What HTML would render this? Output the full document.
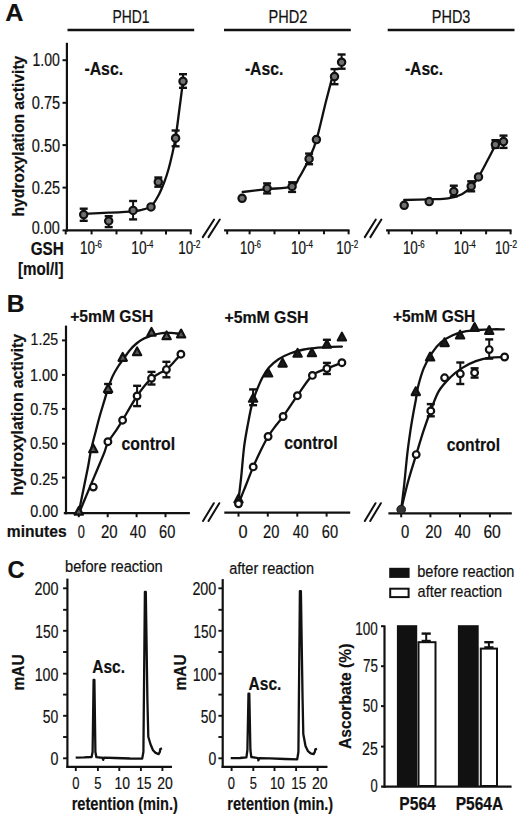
<!DOCTYPE html>
<html><head><meta charset="utf-8"><style>
html,body{margin:0;padding:0;background:#fff;}
svg{display:block;font-family:"Liberation Sans", sans-serif;}
text{stroke:#111;stroke-width:0.2px;stroke-linejoin:round;}
text[font-weight="bold"]{stroke-width:0.2px;}
</style></head><body>
<svg width="520" height="821" viewBox="0 0 520 821">
<rect width="520" height="821" fill="#fff"/>
<text x="5.37" y="21.45" font-size="24.43" font-weight="bold" textLength="18.19" lengthAdjust="spacingAndGlyphs" fill="#111">A</text>
<line x1="67.50" y1="30.00" x2="194.20" y2="30.00" stroke="#111" stroke-width="2.30"/>
<text x="112.56" y="22.75" font-size="18.22" textLength="37.02" lengthAdjust="spacingAndGlyphs" fill="#111">PHD1</text>
<line x1="224.00" y1="30.00" x2="350.80" y2="30.00" stroke="#111" stroke-width="2.30"/>
<text x="268.51" y="22.75" font-size="18.22" textLength="38.83" lengthAdjust="spacingAndGlyphs" fill="#111">PHD2</text>
<line x1="387.70" y1="30.00" x2="514.50" y2="30.00" stroke="#111" stroke-width="2.30"/>
<text x="431.81" y="22.75" font-size="18.22" textLength="38.62" lengthAdjust="spacingAndGlyphs" fill="#111">PHD3</text>
<line x1="66.90" y1="42.80" x2="66.90" y2="231.50" stroke="#111" stroke-width="2.20"/>
<line x1="65.80" y1="230.40" x2="191.90" y2="230.40" stroke="#111" stroke-width="2.20"/>
<line x1="62.50" y1="60.20" x2="66.90" y2="60.20" stroke="#111" stroke-width="2.00"/>
<text x="32.43" y="66.20" font-size="17.91" textLength="27.42" lengthAdjust="spacingAndGlyphs" fill="#111">1.00</text>
<line x1="62.50" y1="102.80" x2="66.90" y2="102.80" stroke="#111" stroke-width="2.00"/>
<text x="31.83" y="109.45" font-size="17.91" textLength="28.38" lengthAdjust="spacingAndGlyphs" fill="#111">0.75</text>
<line x1="62.50" y1="145.10" x2="66.90" y2="145.10" stroke="#111" stroke-width="2.00"/>
<text x="31.83" y="151.65" font-size="17.91" textLength="28.34" lengthAdjust="spacingAndGlyphs" fill="#111">0.50</text>
<line x1="62.50" y1="187.60" x2="66.90" y2="187.60" stroke="#111" stroke-width="2.00"/>
<text x="31.83" y="194.25" font-size="17.91" textLength="28.38" lengthAdjust="spacingAndGlyphs" fill="#111">0.25</text>
<line x1="62.50" y1="230.40" x2="66.90" y2="230.40" stroke="#111" stroke-width="2.00"/>
<text x="31.74" y="233.55" font-size="17.91" textLength="28.13" lengthAdjust="spacingAndGlyphs" fill="#111">0.00</text>
<line x1="65.70" y1="230.40" x2="65.70" y2="234.40" stroke="#111" stroke-width="2.00"/>
<line x1="91.60" y1="230.40" x2="91.60" y2="234.40" stroke="#111" stroke-width="2.00"/>
<line x1="116.50" y1="230.40" x2="116.50" y2="234.40" stroke="#111" stroke-width="2.00"/>
<line x1="141.40" y1="230.40" x2="141.40" y2="234.40" stroke="#111" stroke-width="2.00"/>
<line x1="166.00" y1="230.40" x2="166.00" y2="234.40" stroke="#111" stroke-width="2.00"/>
<line x1="190.70" y1="230.40" x2="190.70" y2="234.40" stroke="#111" stroke-width="2.00"/>
<text x="80.07" y="253.80" font-size="18.22" textLength="15.06" lengthAdjust="spacingAndGlyphs" fill="#111">10</text>
<text x="94.95" y="248.00" font-size="10.76" textLength="7.00" lengthAdjust="spacingAndGlyphs" fill="#111">-6</text>
<text x="131.35" y="253.80" font-size="18.22" textLength="15.28" lengthAdjust="spacingAndGlyphs" fill="#111">10</text>
<text x="146.45" y="248.00" font-size="10.76" textLength="6.98" lengthAdjust="spacingAndGlyphs" fill="#111">-4</text>
<text x="178.28" y="253.80" font-size="18.22" textLength="14.95" lengthAdjust="spacingAndGlyphs" fill="#111">10</text>
<text x="193.03" y="248.00" font-size="10.76" textLength="7.50" lengthAdjust="spacingAndGlyphs" fill="#111">-2</text>
<text x="84.38" y="74.85" font-size="18.22" font-weight="bold" textLength="38.81" lengthAdjust="spacingAndGlyphs" fill="#111">-Asc.</text>
<text transform="rotate(-90)" x="-216.59" y="23.60" font-size="17.20" font-weight="bold" textLength="160.88" lengthAdjust="spacingAndGlyphs" fill="#111">hydroxylation activity</text>
<text x="30.67" y="254.70" font-size="17.80" font-weight="bold" textLength="33.16" lengthAdjust="spacingAndGlyphs" fill="#111">GSH</text>
<text x="18.05" y="274.70" font-size="17.49" font-weight="bold" textLength="45.40" lengthAdjust="spacingAndGlyphs" fill="#111">[mol/l]</text>
<path d="M83.70,213.80 C87.87,213.62 100.47,213.12 108.70,212.70 C116.93,212.28 127.65,211.75 133.10,211.30 C138.55,210.85 138.42,210.80 141.40,210.00 C144.38,209.20 148.12,209.00 151.00,206.50 C153.88,204.00 156.45,199.17 158.70,195.00 C160.95,190.83 162.90,185.67 164.50,181.50 C166.10,177.33 167.08,174.25 168.30,170.00 C169.52,165.75 170.58,161.42 171.80,156.00 C173.02,150.58 174.35,145.17 175.60,137.50 C176.85,129.83 178.07,119.37 179.30,110.00 C180.53,100.63 182.38,86.08 183.00,81.30" fill="none" stroke="#111" stroke-width="2.30" stroke-linecap="round" stroke-linejoin="round"/>
<line x1="83.70" y1="208.50" x2="83.70" y2="221.00" stroke="#111" stroke-width="2.00"/>
<line x1="79.70" y1="208.70" x2="87.70" y2="208.70" stroke="#111" stroke-width="2.40"/>
<line x1="79.70" y1="220.80" x2="87.70" y2="220.80" stroke="#111" stroke-width="2.40"/>
<circle cx="83.70" cy="214.60" r="3.65" fill="#707070" stroke="#111" stroke-width="2.2"/>
<line x1="108.70" y1="216.00" x2="108.70" y2="227.30" stroke="#111" stroke-width="2.00"/>
<line x1="104.70" y1="216.20" x2="112.70" y2="216.20" stroke="#111" stroke-width="2.40"/>
<line x1="104.70" y1="227.10" x2="112.70" y2="227.10" stroke="#111" stroke-width="2.40"/>
<circle cx="108.70" cy="221.00" r="3.65" fill="#707070" stroke="#111" stroke-width="2.2"/>
<line x1="133.10" y1="200.80" x2="133.10" y2="219.60" stroke="#111" stroke-width="2.00"/>
<line x1="129.10" y1="201.00" x2="137.10" y2="201.00" stroke="#111" stroke-width="2.40"/>
<line x1="129.10" y1="219.40" x2="137.10" y2="219.40" stroke="#111" stroke-width="2.40"/>
<circle cx="133.10" cy="210.40" r="3.65" fill="#707070" stroke="#111" stroke-width="2.2"/>
<circle cx="151.00" cy="206.90" r="3.65" fill="#707070" stroke="#111" stroke-width="2.2"/>
<line x1="158.30" y1="177.30" x2="158.30" y2="186.90" stroke="#111" stroke-width="2.00"/>
<line x1="154.30" y1="177.50" x2="162.30" y2="177.50" stroke="#111" stroke-width="2.40"/>
<line x1="154.30" y1="186.70" x2="162.30" y2="186.70" stroke="#111" stroke-width="2.40"/>
<circle cx="158.30" cy="181.90" r="3.65" fill="#707070" stroke="#111" stroke-width="2.2"/>
<line x1="175.60" y1="130.30" x2="175.60" y2="146.50" stroke="#111" stroke-width="2.00"/>
<line x1="171.60" y1="130.50" x2="179.60" y2="130.50" stroke="#111" stroke-width="2.40"/>
<line x1="171.60" y1="146.30" x2="179.60" y2="146.30" stroke="#111" stroke-width="2.40"/>
<circle cx="175.60" cy="138.20" r="3.65" fill="#707070" stroke="#111" stroke-width="2.2"/>
<line x1="183.00" y1="74.00" x2="183.00" y2="88.00" stroke="#111" stroke-width="2.00"/>
<line x1="179.00" y1="74.20" x2="187.00" y2="74.20" stroke="#111" stroke-width="2.40"/>
<line x1="179.00" y1="87.80" x2="187.00" y2="87.80" stroke="#111" stroke-width="2.40"/>
<circle cx="183.00" cy="81.30" r="3.65" fill="#707070" stroke="#111" stroke-width="2.2"/>
<path d="M202.80,237.10 L214.10,219.50 M208.50,237.10 L219.80,219.50" stroke="#111" stroke-width="2.0" stroke-linecap="round" fill="none"/>
<path d="M364.80,237.10 L375.80,219.50 M370.40,237.10 L381.40,219.50" stroke="#111" stroke-width="2.0" stroke-linecap="round" fill="none"/>
<line x1="224.10" y1="230.30" x2="349.50" y2="230.30" stroke="#111" stroke-width="2.20"/>
<line x1="227.20" y1="230.30" x2="227.20" y2="234.30" stroke="#111" stroke-width="2.00"/>
<line x1="249.60" y1="230.30" x2="249.60" y2="234.30" stroke="#111" stroke-width="2.00"/>
<line x1="274.50" y1="230.30" x2="274.50" y2="234.30" stroke="#111" stroke-width="2.00"/>
<line x1="299.00" y1="230.30" x2="299.00" y2="234.30" stroke="#111" stroke-width="2.00"/>
<line x1="324.00" y1="230.30" x2="324.00" y2="234.30" stroke="#111" stroke-width="2.00"/>
<line x1="348.60" y1="230.30" x2="348.60" y2="234.30" stroke="#111" stroke-width="2.00"/>
<text x="239.90" y="253.80" font-size="18.22" textLength="14.61" lengthAdjust="spacingAndGlyphs" fill="#111">10</text>
<text x="254.37" y="248.00" font-size="10.76" textLength="6.66" lengthAdjust="spacingAndGlyphs" fill="#111">-6</text>
<text x="290.97" y="253.80" font-size="18.22" textLength="15.06" lengthAdjust="spacingAndGlyphs" fill="#111">10</text>
<text x="305.85" y="248.00" font-size="10.76" textLength="7.09" lengthAdjust="spacingAndGlyphs" fill="#111">-4</text>
<text x="336.28" y="253.80" font-size="18.22" textLength="14.95" lengthAdjust="spacingAndGlyphs" fill="#111">10</text>
<text x="351.04" y="248.00" font-size="10.76" textLength="7.16" lengthAdjust="spacingAndGlyphs" fill="#111">-2</text>
<text x="244.89" y="74.85" font-size="18.22" font-weight="bold" textLength="38.50" lengthAdjust="spacingAndGlyphs" fill="#111">-Asc.</text>
<path d="M242.70,192.00 C246.77,191.53 258.87,190.12 267.10,189.20 C275.33,188.28 286.77,188.42 292.10,186.50 C297.43,184.58 297.03,180.78 299.10,177.70 C301.17,174.62 302.83,171.13 304.50,168.00 C306.17,164.87 307.12,163.55 309.10,158.90 C311.08,154.25 313.63,149.50 316.40,140.10 C319.17,130.70 323.05,113.00 325.70,102.50 C328.35,92.00 331.20,81.33 332.30,77.10" fill="none" stroke="#111" stroke-width="2.30" stroke-linecap="round" stroke-linejoin="round"/>
<circle cx="242.10" cy="198.30" r="3.65" fill="#707070" stroke="#111" stroke-width="2.2"/>
<line x1="267.10" y1="183.20" x2="267.10" y2="193.60" stroke="#111" stroke-width="2.00"/>
<line x1="263.10" y1="183.40" x2="271.10" y2="183.40" stroke="#111" stroke-width="2.40"/>
<line x1="263.10" y1="193.40" x2="271.10" y2="193.40" stroke="#111" stroke-width="2.40"/>
<circle cx="267.10" cy="188.30" r="3.65" fill="#707070" stroke="#111" stroke-width="2.2"/>
<line x1="292.10" y1="182.10" x2="292.10" y2="192.10" stroke="#111" stroke-width="2.00"/>
<line x1="288.10" y1="182.30" x2="296.10" y2="182.30" stroke="#111" stroke-width="2.40"/>
<line x1="288.10" y1="191.90" x2="296.10" y2="191.90" stroke="#111" stroke-width="2.40"/>
<circle cx="292.10" cy="186.50" r="3.65" fill="#707070" stroke="#111" stroke-width="2.2"/>
<line x1="309.10" y1="153.40" x2="309.10" y2="164.40" stroke="#111" stroke-width="2.00"/>
<line x1="305.10" y1="153.60" x2="313.10" y2="153.60" stroke="#111" stroke-width="2.40"/>
<line x1="305.10" y1="164.20" x2="313.10" y2="164.20" stroke="#111" stroke-width="2.40"/>
<circle cx="309.10" cy="158.90" r="3.65" fill="#707070" stroke="#111" stroke-width="2.2"/>
<circle cx="316.40" cy="139.60" r="3.65" fill="#707070" stroke="#111" stroke-width="2.2"/>
<line x1="334.50" y1="68.90" x2="334.50" y2="84.40" stroke="#111" stroke-width="2.00"/>
<line x1="330.50" y1="69.10" x2="338.50" y2="69.10" stroke="#111" stroke-width="2.40"/>
<line x1="330.50" y1="84.20" x2="338.50" y2="84.20" stroke="#111" stroke-width="2.40"/>
<circle cx="334.50" cy="76.60" r="3.65" fill="#707070" stroke="#111" stroke-width="2.2"/>
<line x1="341.60" y1="54.30" x2="341.60" y2="68.90" stroke="#111" stroke-width="2.00"/>
<line x1="337.60" y1="54.50" x2="345.60" y2="54.50" stroke="#111" stroke-width="2.40"/>
<line x1="337.60" y1="68.70" x2="345.60" y2="68.70" stroke="#111" stroke-width="2.40"/>
<circle cx="341.60" cy="62.20" r="3.65" fill="#707070" stroke="#111" stroke-width="2.2"/>
<line x1="386.10" y1="230.30" x2="511.50" y2="230.30" stroke="#111" stroke-width="2.20"/>
<line x1="388.70" y1="230.30" x2="388.70" y2="234.30" stroke="#111" stroke-width="2.00"/>
<line x1="411.90" y1="230.30" x2="411.90" y2="234.30" stroke="#111" stroke-width="2.00"/>
<line x1="436.80" y1="230.30" x2="436.80" y2="234.30" stroke="#111" stroke-width="2.00"/>
<line x1="461.00" y1="230.30" x2="461.00" y2="234.30" stroke="#111" stroke-width="2.00"/>
<line x1="486.10" y1="230.30" x2="486.10" y2="234.30" stroke="#111" stroke-width="2.00"/>
<line x1="510.60" y1="230.30" x2="510.60" y2="234.30" stroke="#111" stroke-width="2.00"/>
<text x="402.88" y="253.80" font-size="18.22" textLength="14.95" lengthAdjust="spacingAndGlyphs" fill="#111">10</text>
<text x="417.65" y="248.00" font-size="10.76" textLength="7.00" lengthAdjust="spacingAndGlyphs" fill="#111">-6</text>
<text x="453.77" y="253.80" font-size="18.22" textLength="15.06" lengthAdjust="spacingAndGlyphs" fill="#111">10</text>
<text x="468.65" y="248.00" font-size="10.76" textLength="7.09" lengthAdjust="spacingAndGlyphs" fill="#111">-4</text>
<text x="494.90" y="253.80" font-size="18.22" textLength="14.61" lengthAdjust="spacingAndGlyphs" fill="#111">10</text>
<text x="509.31" y="248.00" font-size="10.76" textLength="7.83" lengthAdjust="spacingAndGlyphs" fill="#111">-2</text>
<text x="404.89" y="74.85" font-size="18.22" font-weight="bold" textLength="38.29" lengthAdjust="spacingAndGlyphs" fill="#111">-Asc.</text>
<path d="M404.20,200.00 C408.37,199.88 421.88,199.57 429.20,199.30 C436.52,199.03 442.65,199.25 448.10,198.40 C453.55,197.55 458.05,196.12 461.90,194.20 C465.75,192.28 468.43,189.78 471.20,186.90 C473.97,184.02 475.82,181.25 478.50,176.90 C481.18,172.55 484.38,166.28 487.30,160.80 C490.22,155.32 494.55,146.80 496.00,144.00" fill="none" stroke="#111" stroke-width="2.30" stroke-linecap="round" stroke-linejoin="round"/>
<circle cx="404.20" cy="205.30" r="3.65" fill="#707070" stroke="#111" stroke-width="2.2"/>
<circle cx="429.20" cy="201.60" r="3.65" fill="#707070" stroke="#111" stroke-width="2.2"/>
<line x1="453.80" y1="185.50" x2="453.80" y2="196.50" stroke="#111" stroke-width="2.00"/>
<line x1="449.80" y1="185.70" x2="457.80" y2="185.70" stroke="#111" stroke-width="2.40"/>
<line x1="449.80" y1="196.30" x2="457.80" y2="196.30" stroke="#111" stroke-width="2.40"/>
<circle cx="453.80" cy="191.50" r="3.65" fill="#707070" stroke="#111" stroke-width="2.2"/>
<line x1="471.20" y1="181.10" x2="471.20" y2="191.50" stroke="#111" stroke-width="2.00"/>
<line x1="467.20" y1="181.30" x2="475.20" y2="181.30" stroke="#111" stroke-width="2.40"/>
<line x1="467.20" y1="191.30" x2="475.20" y2="191.30" stroke="#111" stroke-width="2.40"/>
<circle cx="471.20" cy="186.20" r="3.65" fill="#707070" stroke="#111" stroke-width="2.2"/>
<circle cx="478.50" cy="176.90" r="3.65" fill="#707070" stroke="#111" stroke-width="2.2"/>
<line x1="495.40" y1="140.00" x2="495.40" y2="148.00" stroke="#111" stroke-width="2.00"/>
<line x1="491.40" y1="140.20" x2="499.40" y2="140.20" stroke="#111" stroke-width="2.40"/>
<line x1="491.40" y1="147.80" x2="499.40" y2="147.80" stroke="#111" stroke-width="2.40"/>
<circle cx="495.40" cy="144.60" r="3.65" fill="#707070" stroke="#111" stroke-width="2.2"/>
<line x1="503.50" y1="135.40" x2="503.50" y2="148.10" stroke="#111" stroke-width="2.00"/>
<line x1="499.50" y1="135.60" x2="507.50" y2="135.60" stroke="#111" stroke-width="2.40"/>
<line x1="499.50" y1="147.90" x2="507.50" y2="147.90" stroke="#111" stroke-width="2.40"/>
<circle cx="503.50" cy="141.60" r="3.65" fill="#707070" stroke="#111" stroke-width="2.2"/>
<text x="6.65" y="312.45" font-size="24.63" font-weight="bold" textLength="17.76" lengthAdjust="spacingAndGlyphs" fill="#111">B</text>
<text x="70.14" y="322.20" font-size="17.39" font-weight="bold" textLength="83.11" lengthAdjust="spacingAndGlyphs" fill="#111">+5mM GSH</text>
<text x="224.44" y="322.70" font-size="17.39" font-weight="bold" textLength="83.93" lengthAdjust="spacingAndGlyphs" fill="#111">+5mM GSH</text>
<text x="392.95" y="322.40" font-size="17.39" font-weight="bold" textLength="82.30" lengthAdjust="spacingAndGlyphs" fill="#111">+5mM GSH</text>
<line x1="66.00" y1="325.60" x2="66.00" y2="514.30" stroke="#111" stroke-width="2.20"/>
<line x1="63.80" y1="513.20" x2="189.90" y2="513.20" stroke="#111" stroke-width="2.20"/>
<line x1="62.00" y1="340.40" x2="66.00" y2="340.40" stroke="#111" stroke-width="2.00"/>
<text x="30.62" y="345.30" font-size="17.39" textLength="27.57" lengthAdjust="spacingAndGlyphs" fill="#111">1.25</text>
<line x1="62.00" y1="374.90" x2="66.00" y2="374.90" stroke="#111" stroke-width="2.00"/>
<text x="30.00" y="380.90" font-size="17.39" textLength="28.17" lengthAdjust="spacingAndGlyphs" fill="#111">1.00</text>
<line x1="62.00" y1="408.90" x2="66.00" y2="408.90" stroke="#111" stroke-width="2.00"/>
<text x="30.14" y="415.20" font-size="17.39" textLength="28.07" lengthAdjust="spacingAndGlyphs" fill="#111">0.75</text>
<line x1="62.00" y1="443.70" x2="66.00" y2="443.70" stroke="#111" stroke-width="2.00"/>
<text x="30.04" y="449.35" font-size="17.39" textLength="28.13" lengthAdjust="spacingAndGlyphs" fill="#111">0.50</text>
<line x1="62.00" y1="477.60" x2="66.00" y2="477.60" stroke="#111" stroke-width="2.00"/>
<text x="30.14" y="484.85" font-size="17.39" textLength="28.07" lengthAdjust="spacingAndGlyphs" fill="#111">0.25</text>
<text x="30.14" y="516.60" font-size="17.39" textLength="28.02" lengthAdjust="spacingAndGlyphs" fill="#111">0.00</text>
<text transform="rotate(-90)" x="-495.50" y="22.60" font-size="17.20" font-weight="bold" textLength="161.48" lengthAdjust="spacingAndGlyphs" fill="#111">hydroxylation activity</text>
<text x="6.77" y="536.55" font-size="16.04" font-weight="bold" textLength="59.87" lengthAdjust="spacingAndGlyphs" fill="#111">minutes</text>
<line x1="78.80" y1="513.20" x2="78.80" y2="517.20" stroke="#111" stroke-width="2.00"/>
<line x1="107.70" y1="513.20" x2="107.70" y2="517.20" stroke="#111" stroke-width="2.00"/>
<line x1="136.60" y1="513.20" x2="136.60" y2="517.20" stroke="#111" stroke-width="2.00"/>
<line x1="165.50" y1="513.20" x2="165.50" y2="517.20" stroke="#111" stroke-width="2.00"/>
<text x="77.80" y="537.70" font-size="17.59" textLength="7.10" lengthAdjust="spacingAndGlyphs" fill="#111">0</text>
<text x="100.95" y="537.70" font-size="17.59" textLength="16.64" lengthAdjust="spacingAndGlyphs" fill="#111">20</text>
<text x="129.87" y="537.70" font-size="17.59" textLength="16.20" lengthAdjust="spacingAndGlyphs" fill="#111">40</text>
<text x="159.06" y="537.70" font-size="17.59" textLength="16.21" lengthAdjust="spacingAndGlyphs" fill="#111">60</text>
<text x="121.58" y="450.25" font-size="18.01" font-weight="bold" textLength="53.54" lengthAdjust="spacingAndGlyphs" fill="#111">control</text>
<path d="M78.70,512.70 C79.55,508.55 82.22,495.60 83.80,487.80 C85.38,480.00 86.98,472.23 88.20,465.90 C89.42,459.57 89.88,455.42 91.10,449.80 C92.32,444.18 94.03,437.92 95.50,432.20 C96.97,426.48 98.45,420.67 99.90,415.50 C101.35,410.33 102.90,405.52 104.20,401.20 C105.50,396.88 106.35,393.65 107.70,389.60 C109.05,385.55 110.57,380.75 112.30,376.90 C114.03,373.05 116.18,369.57 118.10,366.50 C120.02,363.43 121.88,361.18 123.80,358.50 C125.72,355.82 127.48,352.90 129.60,350.40 C131.72,347.90 134.18,345.43 136.50,343.50 C138.82,341.57 141.18,340.05 143.50,338.80 C145.82,337.55 148.15,336.80 150.40,336.00 C152.65,335.20 154.73,334.52 157.00,334.00 C159.27,333.48 161.67,333.08 164.00,332.90 C166.33,332.72 168.83,332.80 171.00,332.90 C173.17,333.00 175.12,333.23 177.00,333.50 C178.88,333.77 181.42,334.33 182.30,334.50" fill="none" stroke="#111" stroke-width="2.30" stroke-linecap="round" stroke-linejoin="round"/>
<path d="M79.00,513.50 C79.92,511.25 82.73,504.28 84.50,500.00 C86.27,495.72 87.52,492.77 89.60,487.80 C91.68,482.83 94.55,476.05 97.00,470.20 C99.45,464.35 102.48,457.33 104.30,452.70 C106.12,448.07 105.95,446.07 107.90,442.40 C109.85,438.73 113.55,434.40 116.00,430.70 C118.45,427.00 120.33,423.97 122.60,420.20 C124.87,416.43 127.18,412.13 129.60,408.10 C132.02,404.07 134.70,399.60 137.10,396.00 C139.50,392.40 141.60,389.45 144.00,386.50 C146.40,383.55 149.00,380.47 151.50,378.30 C154.00,376.13 156.52,374.95 159.00,373.50 C161.48,372.05 163.98,371.43 166.40,369.60 C168.82,367.77 171.08,365.07 173.50,362.50 C175.92,359.93 179.67,355.58 180.90,354.20" fill="none" stroke="#111" stroke-width="2.30" stroke-linecap="round" stroke-linejoin="round"/>
<path d="M78.80,506.90 L74.65,514.70 L82.95,514.70 Z" fill="#555" stroke="#111" stroke-width="2.2" stroke-linejoin="round"/>
<path d="M93.30,444.40 L89.15,452.20 L97.45,452.20 Z" fill="#555" stroke="#111" stroke-width="2.2" stroke-linejoin="round"/>
<line x1="108.10" y1="383.80" x2="108.10" y2="393.00" stroke="#111" stroke-width="2.00"/>
<line x1="104.10" y1="384.00" x2="112.10" y2="384.00" stroke="#111" stroke-width="2.40"/>
<line x1="104.10" y1="392.80" x2="112.10" y2="392.80" stroke="#111" stroke-width="2.40"/>
<path d="M108.10,384.30 L103.95,392.10 L112.25,392.10 Z" fill="#555" stroke="#111" stroke-width="2.2" stroke-linejoin="round"/>
<path d="M122.70,353.00 L118.55,360.80 L126.85,360.80 Z" fill="#555" stroke="#111" stroke-width="2.2" stroke-linejoin="round"/>
<path d="M137.10,347.40 L132.95,355.20 L141.25,355.20 Z" fill="#555" stroke="#111" stroke-width="2.2" stroke-linejoin="round"/>
<path d="M151.50,327.90 L147.35,335.70 L155.65,335.70 Z" fill="#555" stroke="#111" stroke-width="2.2" stroke-linejoin="round"/>
<path d="M166.60,331.40 L162.45,339.20 L170.75,339.20 Z" fill="#555" stroke="#111" stroke-width="2.2" stroke-linejoin="round"/>
<path d="M181.10,329.60 L176.95,337.40 L185.25,337.40 Z" fill="#555" stroke="#111" stroke-width="2.2" stroke-linejoin="round"/>
<circle cx="93.30" cy="487.10" r="3.35" fill="#fff" stroke="#111" stroke-width="2.2"/>
<circle cx="107.90" cy="441.70" r="3.35" fill="#fff" stroke="#111" stroke-width="2.2"/>
<circle cx="122.60" cy="420.20" r="3.35" fill="#fff" stroke="#111" stroke-width="2.2"/>
<line x1="137.10" y1="385.60" x2="137.10" y2="406.30" stroke="#111" stroke-width="2.00"/>
<line x1="133.10" y1="385.80" x2="141.10" y2="385.80" stroke="#111" stroke-width="2.40"/>
<line x1="133.10" y1="406.10" x2="141.10" y2="406.10" stroke="#111" stroke-width="2.40"/>
<circle cx="137.10" cy="396.00" r="3.35" fill="#fff" stroke="#111" stroke-width="2.2"/>
<line x1="151.50" y1="371.70" x2="151.50" y2="384.70" stroke="#111" stroke-width="2.00"/>
<line x1="147.50" y1="371.90" x2="155.50" y2="371.90" stroke="#111" stroke-width="2.40"/>
<line x1="147.50" y1="384.50" x2="155.50" y2="384.50" stroke="#111" stroke-width="2.40"/>
<circle cx="151.50" cy="378.30" r="3.35" fill="#fff" stroke="#111" stroke-width="2.2"/>
<line x1="166.40" y1="361.60" x2="166.40" y2="377.50" stroke="#111" stroke-width="2.00"/>
<line x1="162.40" y1="361.80" x2="170.40" y2="361.80" stroke="#111" stroke-width="2.40"/>
<line x1="162.40" y1="377.30" x2="170.40" y2="377.30" stroke="#111" stroke-width="2.40"/>
<circle cx="166.40" cy="369.60" r="3.35" fill="#fff" stroke="#111" stroke-width="2.2"/>
<circle cx="180.90" cy="354.20" r="3.35" fill="#fff" stroke="#111" stroke-width="2.2"/>
<line x1="224.30" y1="512.60" x2="350.20" y2="512.60" stroke="#111" stroke-width="2.20"/>
<line x1="238.50" y1="512.60" x2="238.50" y2="516.60" stroke="#111" stroke-width="2.00"/>
<line x1="267.80" y1="512.60" x2="267.80" y2="516.60" stroke="#111" stroke-width="2.00"/>
<line x1="297.30" y1="512.60" x2="297.30" y2="516.60" stroke="#111" stroke-width="2.00"/>
<line x1="326.60" y1="512.60" x2="326.60" y2="516.60" stroke="#111" stroke-width="2.00"/>
<text x="238.56" y="537.70" font-size="17.59" textLength="9.07" lengthAdjust="spacingAndGlyphs" fill="#111">0</text>
<text x="263.06" y="537.70" font-size="17.59" textLength="16.31" lengthAdjust="spacingAndGlyphs" fill="#111">20</text>
<text x="292.87" y="537.70" font-size="17.59" textLength="15.78" lengthAdjust="spacingAndGlyphs" fill="#111">40</text>
<text x="321.86" y="537.70" font-size="17.59" textLength="16.32" lengthAdjust="spacingAndGlyphs" fill="#111">60</text>
<text x="284.18" y="448.75" font-size="18.01" font-weight="bold" textLength="53.43" lengthAdjust="spacingAndGlyphs" fill="#111">control</text>
<path d="M203.00,521.00 L213.80,503.20 M208.50,521.00 L219.30,503.20" stroke="#111" stroke-width="2.0" stroke-linecap="round" fill="none"/>
<path d="M238.50,500.00 C238.95,496.15 240.25,485.87 241.20,476.90 C242.15,467.93 243.05,455.17 244.20,446.20 C245.35,437.23 246.82,430.03 248.10,423.10 C249.38,416.17 250.68,409.48 251.90,404.60 C253.12,399.72 253.67,398.28 255.40,393.80 C257.13,389.32 260.00,382.12 262.30,377.70 C264.60,373.28 266.50,370.38 269.20,367.30 C271.90,364.22 275.03,361.50 278.50,359.20 C281.97,356.90 285.78,355.12 290.00,353.50 C294.22,351.88 299.18,350.47 303.80,349.50 C308.42,348.53 313.08,348.15 317.70,347.70 C322.32,347.25 327.47,346.98 331.50,346.80 C335.53,346.62 340.17,346.63 341.90,346.60" fill="none" stroke="#111" stroke-width="2.30" stroke-linecap="round" stroke-linejoin="round"/>
<path d="M238.50,503.80 C239.72,500.75 243.35,491.65 245.80,485.50 C248.25,479.35 250.75,472.65 253.20,466.90 C255.65,461.15 258.02,456.07 260.50,451.00 C262.98,445.93 265.60,440.67 268.10,436.50 C270.60,432.33 273.00,429.33 275.50,426.00 C278.00,422.67 279.45,421.55 283.10,416.50 C286.75,411.45 292.52,402.55 297.40,395.70 C302.28,388.85 307.48,379.93 312.40,375.40 C317.32,370.87 321.98,370.62 326.90,368.50 C331.82,366.38 339.40,363.67 341.90,362.70" fill="none" stroke="#111" stroke-width="2.30" stroke-linecap="round" stroke-linejoin="round"/>
<path d="M238.50,494.60 L234.35,502.40 L242.65,502.40 Z" fill="#1c1c1c" stroke="#111" stroke-width="2.2" stroke-linejoin="round"/>
<line x1="253.10" y1="389.20" x2="253.10" y2="405.40" stroke="#111" stroke-width="2.00"/>
<line x1="249.10" y1="389.40" x2="257.10" y2="389.40" stroke="#111" stroke-width="2.40"/>
<line x1="249.10" y1="405.20" x2="257.10" y2="405.20" stroke="#111" stroke-width="2.40"/>
<path d="M253.10,393.90 L248.95,401.70 L257.25,401.70 Z" fill="#1c1c1c" stroke="#111" stroke-width="2.2" stroke-linejoin="round"/>
<path d="M268.10,368.70 L263.95,376.50 L272.25,376.50 Z" fill="#1c1c1c" stroke="#111" stroke-width="2.2" stroke-linejoin="round"/>
<path d="M282.60,358.80 L278.45,366.60 L286.75,366.60 Z" fill="#1c1c1c" stroke="#111" stroke-width="2.2" stroke-linejoin="round"/>
<path d="M297.60,348.90 L293.45,356.70 L301.75,356.70 Z" fill="#1c1c1c" stroke="#111" stroke-width="2.2" stroke-linejoin="round"/>
<path d="M311.90,348.40 L307.75,356.20 L316.05,356.20 Z" fill="#1c1c1c" stroke="#111" stroke-width="2.2" stroke-linejoin="round"/>
<line x1="326.90" y1="339.60" x2="326.90" y2="346.50" stroke="#111" stroke-width="2.00"/>
<line x1="322.90" y1="339.80" x2="330.90" y2="339.80" stroke="#111" stroke-width="2.40"/>
<line x1="322.90" y1="346.30" x2="330.90" y2="346.30" stroke="#111" stroke-width="2.40"/>
<path d="M326.90,339.90 L322.75,347.70 L331.05,347.70 Z" fill="#1c1c1c" stroke="#111" stroke-width="2.2" stroke-linejoin="round"/>
<path d="M341.90,332.70 L337.75,340.50 L346.05,340.50 Z" fill="#1c1c1c" stroke="#111" stroke-width="2.2" stroke-linejoin="round"/>
<circle cx="238.50" cy="503.80" r="3.35" fill="#fff" stroke="#111" stroke-width="2.2"/>
<circle cx="253.20" cy="466.90" r="3.35" fill="#fff" stroke="#111" stroke-width="2.2"/>
<circle cx="268.10" cy="436.50" r="3.35" fill="#fff" stroke="#111" stroke-width="2.2"/>
<circle cx="283.10" cy="416.50" r="3.35" fill="#fff" stroke="#111" stroke-width="2.2"/>
<circle cx="297.40" cy="395.70" r="3.35" fill="#fff" stroke="#111" stroke-width="2.2"/>
<circle cx="312.40" cy="375.40" r="3.35" fill="#fff" stroke="#111" stroke-width="2.2"/>
<line x1="326.90" y1="362.70" x2="326.90" y2="374.20" stroke="#111" stroke-width="2.00"/>
<line x1="322.90" y1="362.90" x2="330.90" y2="362.90" stroke="#111" stroke-width="2.40"/>
<line x1="322.90" y1="374.00" x2="330.90" y2="374.00" stroke="#111" stroke-width="2.40"/>
<circle cx="326.90" cy="368.50" r="3.35" fill="#fff" stroke="#111" stroke-width="2.2"/>
<circle cx="341.90" cy="362.70" r="3.35" fill="#fff" stroke="#111" stroke-width="2.2"/>
<line x1="388.40" y1="513.30" x2="511.80" y2="513.30" stroke="#111" stroke-width="2.20"/>
<line x1="401.20" y1="513.30" x2="401.20" y2="517.30" stroke="#111" stroke-width="2.00"/>
<line x1="430.40" y1="513.30" x2="430.40" y2="517.30" stroke="#111" stroke-width="2.00"/>
<line x1="460.00" y1="513.30" x2="460.00" y2="517.30" stroke="#111" stroke-width="2.00"/>
<line x1="489.90" y1="513.30" x2="489.90" y2="517.30" stroke="#111" stroke-width="2.00"/>
<text x="400.92" y="537.70" font-size="17.59" textLength="8.26" lengthAdjust="spacingAndGlyphs" fill="#111">0</text>
<text x="425.25" y="537.70" font-size="17.59" textLength="16.64" lengthAdjust="spacingAndGlyphs" fill="#111">20</text>
<text x="454.47" y="537.70" font-size="17.59" textLength="16.20" lengthAdjust="spacingAndGlyphs" fill="#111">40</text>
<text x="483.41" y="537.70" font-size="17.59" textLength="17.41" lengthAdjust="spacingAndGlyphs" fill="#111">60</text>
<text x="446.79" y="450.75" font-size="18.01" font-weight="bold" textLength="53.23" lengthAdjust="spacingAndGlyphs" fill="#111">control</text>
<path d="M364.80,521.00 L375.50,503.20 M370.20,521.00 L380.90,503.20" stroke="#111" stroke-width="2.0" stroke-linecap="round" fill="none"/>
<path d="M401.20,509.50 C401.70,505.35 403.18,493.88 404.20,484.60 C405.22,475.32 406.27,462.77 407.30,453.80 C408.33,444.83 409.37,437.72 410.40,430.80 C411.43,423.88 412.60,417.43 413.50,412.30 C414.40,407.17 415.03,404.30 415.80,400.00 C416.57,395.70 416.77,391.82 418.10,386.50 C419.43,381.18 421.50,373.67 423.80,368.10 C426.10,362.53 429.00,357.42 431.90,353.10 C434.80,348.78 437.73,345.17 441.20,342.20 C444.67,339.23 448.87,337.07 452.70,335.30 C456.53,333.53 459.97,332.48 464.20,331.60 C468.43,330.72 473.48,330.38 478.10,330.00 C482.72,329.62 487.60,329.42 491.90,329.30 C496.20,329.18 501.90,329.30 503.90,329.30" fill="none" stroke="#111" stroke-width="2.30" stroke-linecap="round" stroke-linejoin="round"/>
<path d="M401.20,509.50 C402.35,504.83 405.60,490.65 408.10,481.50 C410.60,472.35 413.63,463.05 416.20,454.60 C418.77,446.15 421.10,438.07 423.50,430.80 C425.90,423.53 428.05,417.60 430.60,411.00 C433.15,404.40 435.50,396.82 438.80,391.20 C442.10,385.58 446.55,381.15 450.40,377.30 C454.25,373.45 457.67,370.78 461.90,368.10 C466.13,365.42 471.18,362.93 475.80,361.20 C480.42,359.47 484.80,358.40 489.60,357.70 C494.40,357.00 502.10,357.12 504.60,357.00" fill="none" stroke="#111" stroke-width="2.30" stroke-linecap="round" stroke-linejoin="round"/>
<path d="M415.80,387.30 L411.65,395.10 L419.95,395.10 Z" fill="#1c1c1c" stroke="#111" stroke-width="2.2" stroke-linejoin="round"/>
<path d="M430.10,352.60 L425.95,360.40 L434.25,360.40 Z" fill="#1c1c1c" stroke="#111" stroke-width="2.2" stroke-linejoin="round"/>
<path d="M444.60,338.30 L440.45,346.10 L448.75,346.10 Z" fill="#1c1c1c" stroke="#111" stroke-width="2.2" stroke-linejoin="round"/>
<path d="M460.10,330.70 L455.95,338.50 L464.25,338.50 Z" fill="#1c1c1c" stroke="#111" stroke-width="2.2" stroke-linejoin="round"/>
<path d="M474.60,323.10 L470.45,330.90 L478.75,330.90 Z" fill="#1c1c1c" stroke="#111" stroke-width="2.2" stroke-linejoin="round"/>
<path d="M489.20,326.10 L485.05,333.90 L493.35,333.90 Z" fill="#1c1c1c" stroke="#111" stroke-width="2.2" stroke-linejoin="round"/>
<circle cx="416.20" cy="454.60" r="3.35" fill="#fff" stroke="#111" stroke-width="2.2"/>
<line x1="430.80" y1="403.90" x2="430.80" y2="416.50" stroke="#111" stroke-width="2.00"/>
<line x1="426.80" y1="404.10" x2="434.80" y2="404.10" stroke="#111" stroke-width="2.40"/>
<line x1="426.80" y1="416.30" x2="434.80" y2="416.30" stroke="#111" stroke-width="2.40"/>
<circle cx="430.80" cy="410.90" r="3.35" fill="#fff" stroke="#111" stroke-width="2.2"/>
<circle cx="444.60" cy="377.80" r="3.35" fill="#fff" stroke="#111" stroke-width="2.2"/>
<line x1="460.30" y1="362.30" x2="460.30" y2="384.20" stroke="#111" stroke-width="2.00"/>
<line x1="456.30" y1="362.50" x2="464.30" y2="362.50" stroke="#111" stroke-width="2.40"/>
<line x1="456.30" y1="384.00" x2="464.30" y2="384.00" stroke="#111" stroke-width="2.40"/>
<circle cx="460.30" cy="373.80" r="3.35" fill="#fff" stroke="#111" stroke-width="2.2"/>
<line x1="474.60" y1="368.10" x2="474.60" y2="377.80" stroke="#111" stroke-width="2.00"/>
<line x1="470.60" y1="368.30" x2="478.60" y2="368.30" stroke="#111" stroke-width="2.40"/>
<line x1="470.60" y1="377.60" x2="478.60" y2="377.60" stroke="#111" stroke-width="2.40"/>
<circle cx="474.60" cy="372.70" r="3.35" fill="#fff" stroke="#111" stroke-width="2.2"/>
<line x1="489.20" y1="339.20" x2="489.20" y2="358.80" stroke="#111" stroke-width="2.00"/>
<line x1="485.20" y1="339.40" x2="493.20" y2="339.40" stroke="#111" stroke-width="2.40"/>
<line x1="485.20" y1="358.60" x2="493.20" y2="358.60" stroke="#111" stroke-width="2.40"/>
<circle cx="489.20" cy="349.60" r="3.35" fill="#fff" stroke="#111" stroke-width="2.2"/>
<circle cx="504.60" cy="357.00" r="3.35" fill="#fff" stroke="#111" stroke-width="2.2"/>
<circle cx="401.2" cy="509.5" r="4.3" fill="#333" stroke="#111" stroke-width="1"/>
<text x="7.53" y="578.10" font-size="24.63" font-weight="bold" textLength="17.12" lengthAdjust="spacingAndGlyphs" fill="#111">C</text>
<line x1="67.40" y1="578.60" x2="67.40" y2="767.80" stroke="#111" stroke-width="2.20"/>
<line x1="66.30" y1="766.90" x2="172.00" y2="766.90" stroke="#111" stroke-width="2.20"/>
<line x1="63.10" y1="588.30" x2="67.40" y2="588.30" stroke="#111" stroke-width="1.90"/>
<line x1="63.10" y1="609.80" x2="67.40" y2="609.80" stroke="#111" stroke-width="1.90"/>
<line x1="63.10" y1="630.80" x2="67.40" y2="630.80" stroke="#111" stroke-width="1.90"/>
<line x1="63.10" y1="652.00" x2="67.40" y2="652.00" stroke="#111" stroke-width="1.90"/>
<line x1="63.10" y1="673.70" x2="67.40" y2="673.70" stroke="#111" stroke-width="1.90"/>
<line x1="63.10" y1="694.60" x2="67.40" y2="694.60" stroke="#111" stroke-width="1.90"/>
<line x1="63.10" y1="715.80" x2="67.40" y2="715.80" stroke="#111" stroke-width="1.90"/>
<line x1="63.10" y1="737.00" x2="67.40" y2="737.00" stroke="#111" stroke-width="1.90"/>
<line x1="63.10" y1="758.30" x2="67.40" y2="758.30" stroke="#111" stroke-width="1.90"/>
<text x="34.48" y="595.10" font-size="17.91" textLength="23.88" lengthAdjust="spacingAndGlyphs" fill="#111">200</text>
<text x="35.35" y="637.60" font-size="17.91" textLength="22.99" lengthAdjust="spacingAndGlyphs" fill="#111">150</text>
<text x="34.72" y="680.50" font-size="17.91" textLength="23.63" lengthAdjust="spacingAndGlyphs" fill="#111">100</text>
<text x="42.84" y="722.60" font-size="17.91" textLength="15.50" lengthAdjust="spacingAndGlyphs" fill="#111">50</text>
<text x="50.44" y="765.10" font-size="17.91" textLength="7.91" lengthAdjust="spacingAndGlyphs" fill="#111">0</text>
<line x1="222.70" y1="579.10" x2="222.70" y2="767.80" stroke="#111" stroke-width="2.20"/>
<line x1="221.60" y1="766.90" x2="327.50" y2="766.90" stroke="#111" stroke-width="2.20"/>
<line x1="218.40" y1="588.30" x2="222.70" y2="588.30" stroke="#111" stroke-width="1.90"/>
<line x1="218.40" y1="609.80" x2="222.70" y2="609.80" stroke="#111" stroke-width="1.90"/>
<line x1="218.40" y1="630.80" x2="222.70" y2="630.80" stroke="#111" stroke-width="1.90"/>
<line x1="218.40" y1="652.00" x2="222.70" y2="652.00" stroke="#111" stroke-width="1.90"/>
<line x1="218.40" y1="673.70" x2="222.70" y2="673.70" stroke="#111" stroke-width="1.90"/>
<line x1="218.40" y1="694.60" x2="222.70" y2="694.60" stroke="#111" stroke-width="1.90"/>
<line x1="218.40" y1="715.80" x2="222.70" y2="715.80" stroke="#111" stroke-width="1.90"/>
<line x1="218.40" y1="737.00" x2="222.70" y2="737.00" stroke="#111" stroke-width="1.90"/>
<line x1="218.40" y1="758.30" x2="222.70" y2="758.30" stroke="#111" stroke-width="1.90"/>
<text x="192.38" y="595.10" font-size="17.91" textLength="23.88" lengthAdjust="spacingAndGlyphs" fill="#111">200</text>
<text x="193.46" y="637.60" font-size="17.91" textLength="22.77" lengthAdjust="spacingAndGlyphs" fill="#111">150</text>
<text x="192.73" y="680.50" font-size="17.91" textLength="23.52" lengthAdjust="spacingAndGlyphs" fill="#111">100</text>
<text x="200.85" y="722.60" font-size="17.91" textLength="15.39" lengthAdjust="spacingAndGlyphs" fill="#111">50</text>
<text x="208.45" y="765.10" font-size="17.91" textLength="7.79" lengthAdjust="spacingAndGlyphs" fill="#111">0</text>
<text x="65.06" y="572.05" font-size="16.35" textLength="97.69" lengthAdjust="spacingAndGlyphs" fill="#111">before reaction</text>
<text x="229.18" y="574.05" font-size="16.56" textLength="84.86" lengthAdjust="spacingAndGlyphs" fill="#111">after reaction</text>
<text transform="rotate(-90)" x="-690.42" y="24.05" font-size="17.00" font-weight="bold" textLength="36.06" lengthAdjust="spacingAndGlyphs" fill="#111">mAU</text>
<text transform="rotate(-90)" x="-690.42" y="185.75" font-size="17.00" font-weight="bold" textLength="36.06" lengthAdjust="spacingAndGlyphs" fill="#111">mAU</text>
<text x="92.31" y="673.10" font-size="18.63" font-weight="bold" textLength="32.75" lengthAdjust="spacingAndGlyphs" fill="#111">Asc.</text>
<text x="248.61" y="690.20" font-size="18.63" font-weight="bold" textLength="32.75" lengthAdjust="spacingAndGlyphs" fill="#111">Asc.</text>
<text x="71.64" y="809.55" font-size="17.59" font-weight="bold" textLength="106.29" lengthAdjust="spacingAndGlyphs" fill="#111">retention (min.)</text>
<text x="227.34" y="809.70" font-size="17.59" font-weight="bold" textLength="105.88" lengthAdjust="spacingAndGlyphs" fill="#111">retention (min.)</text>
<line x1="75.80" y1="766.90" x2="75.80" y2="771.00" stroke="#111" stroke-width="1.90"/>
<line x1="97.90" y1="766.90" x2="97.90" y2="771.00" stroke="#111" stroke-width="1.90"/>
<line x1="119.30" y1="766.90" x2="119.30" y2="771.00" stroke="#111" stroke-width="1.90"/>
<line x1="140.90" y1="766.90" x2="140.90" y2="771.00" stroke="#111" stroke-width="1.90"/>
<line x1="162.40" y1="766.90" x2="162.40" y2="771.00" stroke="#111" stroke-width="1.90"/>
<text x="72.29" y="788.60" font-size="17.18" textLength="7.21" lengthAdjust="spacingAndGlyphs" fill="#111">0</text>
<text x="94.18" y="788.60" font-size="17.18" textLength="7.27" lengthAdjust="spacingAndGlyphs" fill="#111">5</text>
<text x="114.44" y="788.60" font-size="17.18" textLength="15.51" lengthAdjust="spacingAndGlyphs" fill="#111">10</text>
<text x="136.47" y="788.60" font-size="17.18" textLength="14.99" lengthAdjust="spacingAndGlyphs" fill="#111">15</text>
<text x="157.20" y="788.60" font-size="17.18" textLength="15.55" lengthAdjust="spacingAndGlyphs" fill="#111">20</text>
<line x1="231.60" y1="766.90" x2="231.60" y2="771.00" stroke="#111" stroke-width="1.90"/>
<line x1="253.30" y1="766.90" x2="253.30" y2="771.00" stroke="#111" stroke-width="1.90"/>
<line x1="274.50" y1="766.90" x2="274.50" y2="771.00" stroke="#111" stroke-width="1.90"/>
<line x1="296.10" y1="766.90" x2="296.10" y2="771.00" stroke="#111" stroke-width="1.90"/>
<line x1="317.60" y1="766.90" x2="317.60" y2="771.00" stroke="#111" stroke-width="1.90"/>
<text x="227.79" y="788.60" font-size="17.18" textLength="7.21" lengthAdjust="spacingAndGlyphs" fill="#111">0</text>
<text x="249.78" y="788.60" font-size="17.18" textLength="7.16" lengthAdjust="spacingAndGlyphs" fill="#111">5</text>
<text x="269.88" y="788.60" font-size="17.18" textLength="14.95" lengthAdjust="spacingAndGlyphs" fill="#111">10</text>
<text x="291.37" y="788.60" font-size="17.18" textLength="14.99" lengthAdjust="spacingAndGlyphs" fill="#111">15</text>
<text x="311.89" y="788.60" font-size="17.18" textLength="15.77" lengthAdjust="spacingAndGlyphs" fill="#111">20</text>
<path d="M75.70,757.60 L84.00,757.40 L91.60,757.00 L92.60,752.00 L93.60,679.80 L94.40,679.80 L95.40,752.00 L96.40,757.20 L100.00,757.50 L102.40,757.60 L103.20,759.80 L104.00,757.60 L115.00,758.00 L130.00,758.50 L142.20,758.60 L143.40,752.00 L144.90,591.80 L145.80,591.80 L147.40,700.00 L148.30,736.70 L150.50,744.30 L153.00,750.30 L155.60,752.90 L158.60,754.10 L159.80,752.00 L160.30,749.00 L162.00,748.40" fill="none" stroke="#111" stroke-width="2.30" stroke-linejoin="round"/>
<path d="M230.70,758.10 L240.00,758.00 L246.40,757.30 L247.40,750.00 L248.50,693.60 L249.30,693.60 L250.40,750.00 L251.30,757.00 L253.50,757.30 L257.90,758.10 L258.40,760.40 L259.20,758.10 L270.00,758.40 L285.00,759.00 L297.20,759.40 L298.40,752.00 L299.90,591.20 L300.90,591.20 L302.60,700.00 L303.30,734.00 L305.50,746.00 L308.00,751.20 L310.60,753.30 L313.60,754.10 L314.80,752.00 L315.30,749.40 L317.00,748.80" fill="none" stroke="#111" stroke-width="2.30" stroke-linejoin="round"/>
<rect x="389.20" y="567.80" width="20.40" height="10.10" fill="#111"/>
<rect x="390.20" y="588.70" width="18.40" height="8.40" fill="#fff" stroke="#111" stroke-width="2.00"/>
<text x="417.26" y="577.25" font-size="16.77" textLength="97.08" lengthAdjust="spacingAndGlyphs" fill="#111">before reaction</text>
<text x="417.59" y="597.25" font-size="16.77" textLength="84.45" lengthAdjust="spacingAndGlyphs" fill="#111">after reaction</text>
<line x1="384.50" y1="625.40" x2="384.50" y2="787.70" stroke="#111" stroke-width="2.20"/>
<line x1="381.10" y1="786.60" x2="511.60" y2="786.60" stroke="#111" stroke-width="2.20"/>
<line x1="381.00" y1="626.20" x2="384.50" y2="626.20" stroke="#111" stroke-width="2.00"/>
<text x="355.27" y="634.90" font-size="17.59" textLength="22.56" lengthAdjust="spacingAndGlyphs" fill="#111">100</text>
<line x1="381.00" y1="666.20" x2="384.50" y2="666.20" stroke="#111" stroke-width="2.00"/>
<text x="362.91" y="672.00" font-size="17.59" textLength="14.95" lengthAdjust="spacingAndGlyphs" fill="#111">75</text>
<line x1="381.00" y1="706.10" x2="384.50" y2="706.10" stroke="#111" stroke-width="2.00"/>
<text x="362.65" y="712.20" font-size="17.59" textLength="15.18" lengthAdjust="spacingAndGlyphs" fill="#111">50</text>
<line x1="381.00" y1="746.60" x2="384.50" y2="746.60" stroke="#111" stroke-width="2.00"/>
<text x="362.09" y="754.50" font-size="17.59" textLength="15.81" lengthAdjust="spacingAndGlyphs" fill="#111">25</text>
<text x="370.59" y="791.80" font-size="17.59" textLength="7.21" lengthAdjust="spacingAndGlyphs" fill="#111">0</text>
<rect x="396.90" y="625.20" width="20.30" height="160.80" fill="#111"/>
<rect x="418.50" y="642.20" width="17.00" height="143.80" fill="#fff" stroke="#111" stroke-width="2.00"/>
<line x1="426.20" y1="633.40" x2="426.20" y2="641.20" stroke="#111" stroke-width="2.00"/>
<line x1="421.60" y1="633.60" x2="430.80" y2="633.60" stroke="#111" stroke-width="2.40"/>
<line x1="421.60" y1="641.00" x2="430.80" y2="641.00" stroke="#111" stroke-width="2.40"/>
<rect x="457.90" y="625.20" width="20.80" height="160.80" fill="#111"/>
<rect x="480.80" y="648.60" width="16.20" height="137.40" fill="#fff" stroke="#111" stroke-width="2.00"/>
<line x1="488.90" y1="642.00" x2="488.90" y2="647.60" stroke="#111" stroke-width="2.00"/>
<line x1="484.30" y1="642.20" x2="493.50" y2="642.20" stroke="#111" stroke-width="2.40"/>
<line x1="484.30" y1="647.40" x2="493.50" y2="647.40" stroke="#111" stroke-width="2.40"/>
<text x="399.36" y="810.25" font-size="17.91" font-weight="bold" textLength="36.43" lengthAdjust="spacingAndGlyphs" fill="#111">P564</text>
<text x="455.66" y="810.25" font-size="17.91" font-weight="bold" textLength="47.45" lengthAdjust="spacingAndGlyphs" fill="#111">P564A</text>
<text transform="rotate(-90)" x="-748.99" y="350.65" font-size="17.00" font-weight="bold" textLength="105.37" lengthAdjust="spacingAndGlyphs" fill="#111">Ascorbate (%)</text>
</svg>
</body></html>
